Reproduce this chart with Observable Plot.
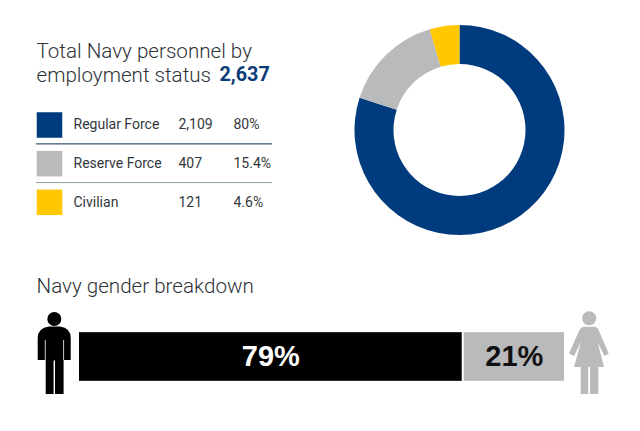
<!DOCTYPE html>
<html>
<head>
<meta charset="utf-8">
<script src="https://cdn.jsdelivr.net/npm/d3@7"></script>
<script src="https://cdn.jsdelivr.net/npm/@observablehq/plot@0.6"></script>
<style>
html,body{margin:0;padding:0;background:#fff;}
svg{display:block;}
</style>
</head>
<body>
<div id="chart"></div>
<script>
const categories = ["Regular Force", "Reserve Force", "Civilian"];
const counts = [2109, 407, 121];
const countLabels = ["2,109", "407", "121"];
const shareLabels = ["80%", "15.4%", "4.6%"];
const categoryColors = ["#003c7d", "#b9babc", "#ffc800"];
const ruleColors = ["#0a2a4e", "#8f9ea9"];

const genders = ["Male", "Female"];
const genderShares = [79, 21];
const genderColors = ["#000000", "#b9babc"];
const genderTextColors = ["#ffffff", "#111111"];

const titleLines = ["Total Navy personnel by", "employment status"];
const totalLabel = "2,637";
const genderTitle = "Navy gender breakdown";

const rows = [...categories, "gap1", "gap2", "gap3", "gender"];
const legend = categories.map((c, i) => ({c, count: countLabels[i], share: shareLabels[i]}));
let cum = 0;
const genderRows = genders.map((g, i) => {
  const d = {g, x1: cum, x2: cum + genderShares[i], label: genderShares[i] + "%", fill: genderColors[i], text: genderTextColors[i]};
  cum += genderShares[i];
  return d;
});

const font = "Roboto, 'Liberation Sans', sans-serif";
const inkTitle = "#2f3338", inkBody = "#33373c";

function donut(index, scales) {
  const g = d3.create("svg:g").attr("transform", "translate(459.5,130)");
  const pie = d3.pie().sort(null).value((d, i) => counts[i]);
  const arc = d3.arc().innerRadius(66).outerRadius(105);
  g.selectAll("path").data(pie(categories)).join("path")
    .attr("d", arc).attr("fill", d => scales.color(d.data));
  return g.node();
}

function icons() {
  const g = d3.create("svg:g");
  const male = g.append("g").attr("fill", "#000");
  male.append("circle").attr("cx", 54.3).attr("cy", 319).attr("r", 7);
  male.append("path").attr("d", "M49 326.5H60Q70.7 328 70.7 338V360H63.6V394H55V360.5H53.6V394H45.7V360H37.7V338Q37.7 328 49 326.5Z");
  male.append("path").attr("d", "M45.3 340V360M63.6 340V360").attr("stroke", "#fff").attr("stroke-width", 0.8);
  const female = g.append("g").attr("fill", "#b9babc");
  female.append("circle").attr("cx", 589.2).attr("cy", 318.3).attr("r", 7);
  female.append("path").attr("d", "M584 326.7H594.5Q597.5 327 599 331L608.7 353.5L604.5 356L597.5 342L604 367H598.3V394H590V367H588.2V394H580.7V367H574L581 342L574 356L569 353.5L579 331Q581 327 584 326.7Z");
  return g.node();
}

const title = (text, opts) => Plot.text([text], {text: d => d, frameAnchor: "top-left", textAnchor: "start", fontFamily: font, fill: inkTitle, fontSize: 20.6, fontWeight: 300, ...opts});

const chart = Plot.plot({
  width: 640,
  height: 431,
  marginLeft: 78,
  marginRight: 75,
  marginTop: 105.17,
  marginBottom: 55.17,
  style: {background: "#fff", fontFamily: font},
  x: {domain: [0, 100], axis: null},
  y: {domain: rows, axis: null, padding: 0, round: false},
  color: {domain: categories, range: categoryColors},
  marks: [
    donut,
    title(titleLines[0], {dx: -42, dy: -62.5}),
    title(titleLines[1], {dx: -42, dy: -38.5}),
    title(totalLabel, {dx: 141, dy: -38.5, fill: "#0b3a78", fontWeight: 700, fontSize: 19.8}),
    title(genderTitle, {dx: -42, dy: 172.5}),
    Plot.dot(categories, {y: d => d, frameAnchor: "left", dx: -29, symbol: "square", r: 14.4, fill: d => d, stroke: null}),
    Plot.ruleY(categories.slice(0, 2), {y: d => d, dy: 18.9, stroke: (d, i) => ruleColors[i], strokeWidth: 1, insetLeft: -42, insetRight: 293}),
    Plot.text(legend, {y: "c", text: "c", frameAnchor: "left", dx: -5, textAnchor: "start", fontSize: 14, fill: inkBody, fontWeight: 400}),
    Plot.text(legend, {y: "c", text: "count", frameAnchor: "left", dx: 100, textAnchor: "start", fontSize: 14, fill: inkBody}),
    Plot.text(legend, {y: "c", text: "share", frameAnchor: "left", dx: 155, textAnchor: "start", fontSize: 14, fill: inkBody}),
    Plot.barX(genderRows, {x1: "x1", x2: "x2", y: () => "gender", fill: "fill", insetLeft: 1, insetRight: 1, insetTop: -5, insetBottom: -5}),
    Plot.text(genderRows, {x: d => (d.x1 + d.x2) / 2, y: () => "gender", text: "label", fill: "text", fontFamily: "'Liberation Sans', sans-serif", fontSize: 29, fontWeight: 700}),
    icons
  ]
});
document.getElementById("chart").append(chart);
</script>
</body>
</html>
